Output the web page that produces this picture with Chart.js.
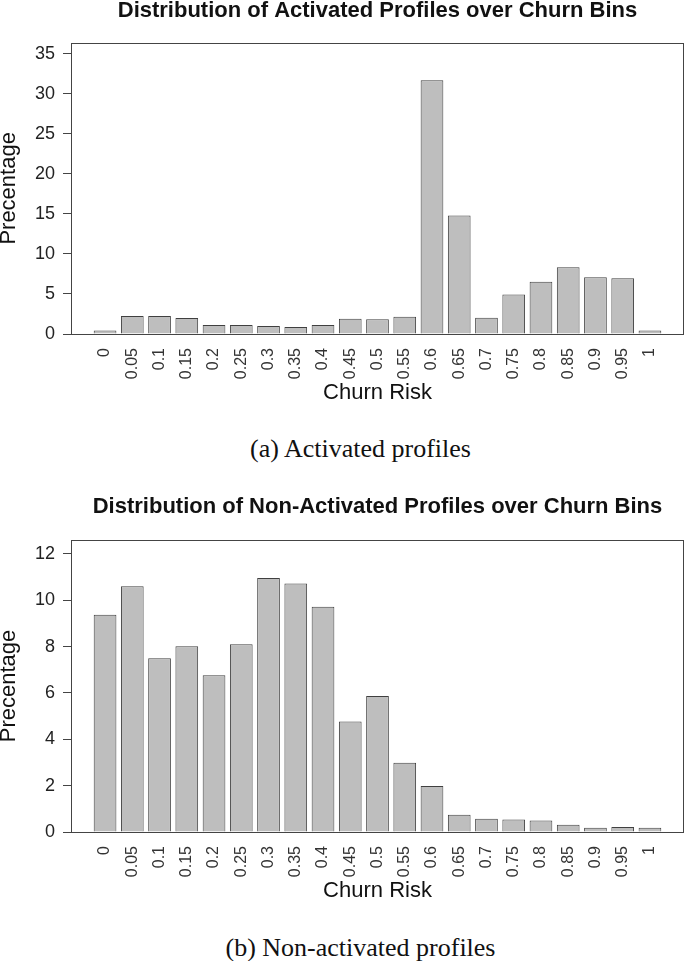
<!DOCTYPE html>
<html lang="en">
<head>
  <meta charset="UTF-8" />
  <title>Distribution of Profiles over Churn Bins</title>
  <script src="https://cdn.jsdelivr.net/npm/chart.js"></script>
  <style>
    body {
      margin: 0;
      background: #ffffff;
      width: 685px;
      height: 961px;
      position: relative;
      overflow: hidden;
    }

    canvas {
      position: absolute;
      left: 0;
    }

    #activatedChart { top: 0; }
    #nonActivatedChart { top: 480px; }

    .caption {
      position: absolute;
      left: 18px;
      width: 685px;
      text-align: center;
      font-family: 'Liberation Serif', 'Times New Roman', serif;
      font-size: 26px;
      line-height: 26px;
      color: #111;
    }
  </style>
</head>
<body>

  <canvas id="activatedChart" width="685" height="410"></canvas>
  <div class="caption" style="top: 436px;">(a) Activated profiles</div>

  <canvas id="nonActivatedChart" width="685" height="428"></canvas>
  <div class="caption" style="top: 935px;">(b) Non-activated profiles</div>

  <script>
    // churn risk bins (x categories)
    const churnBins = ['0', '0.05', '0.1', '0.15', '0.2', '0.25', '0.3', '0.35', '0.4', '0.45', '0.5',
                       '0.55', '0.6', '0.65', '0.7', '0.75', '0.8', '0.85', '0.9', '0.95', '1'];

    // percentage of profiles per bin
    const activatedPct = [0.45, 2.25, 2.25, 2.0, 1.12, 1.12, 1.0, 0.87, 1.12, 1.91, 1.83,
                          2.16, 31.7, 14.8, 2.04, 4.95, 6.54, 8.33, 7.08, 6.96, 0.45];
    const nonActivatedPct = [9.37, 10.6, 7.5, 8.01, 6.76, 8.1, 10.96, 10.72, 9.72, 4.77, 5.87,
                             2.99, 1.98, 0.74, 0.57, 0.54, 0.5, 0.31, 0.18, 0.22, 0.18];

    // y tick labels
    const activatedTicks = [0, 5, 10, 15, 20, 25, 30, 35];
    const nonActivatedTicks = [0, 2, 4, 6, 8, 10, 12];

    Chart.defaults.font.family = "'Liberation Sans', Arial, sans-serif";
    Chart.defaults.color = '#222';

    // R style box round the plot region
    const plotBox = {
      id: 'plotBox',
      afterDraw(chart) {
        const a = chart.chartArea;
        const ctx = chart.ctx;
        ctx.save();
        ctx.strokeStyle = '#444';
        ctx.lineWidth = 1;
        ctx.strokeRect(Math.round(a.left) + 0.5, Math.round(a.top) + 0.5,
                       Math.round(a.right - a.left) - 1, Math.round(a.bottom - a.top));
        ctx.restore();
      }
    };

    function drawChart(id, title, values, yTicks, yMax, titleTop, titleBottom) {
      new Chart(document.getElementById(id), {
        type: 'bar',
        data: {
          datasets: [{
            data: values.map((v, i) => ({ x: i, y: v })),
            backgroundColor: '#bebebe',
            borderColor: '#404040',
            borderWidth: 1,
            categoryPercentage: 1,
            barPercentage: 1 / 1.2
          }]
        },
        options: {
          responsive: false,
          animation: false,
          devicePixelRatio: 1,
          layout: { padding: { left: 0, right: 1, top: 0, bottom: 0 } },
          plugins: {
            legend: { display: false },
            tooltip: { enabled: false },
            title: {
              display: true,
              fullSize: false,
              text: title,
              color: '#111',
              font: { size: 22, weight: 'bold', lineHeight: 1.0 },
              padding: { top: titleTop, bottom: titleBottom }
            }
          },
          scales: {
            x: {
              type: 'linear',
              offset: false,
              min: -1.25,
              max: churnBins.length - 1 + 1.25,
              afterBuildTicks: (scale) => {
                scale.ticks = churnBins.map((b, i) => ({ value: i }));
              },
              afterFit: (scale) => { scale.height = 76; },
              grid: { display: true, offset: false, drawOnChartArea: false, color: 'rgba(0,0,0,0)', tickLength: 14 },
              border: { display: false },
              ticks: {
                autoSkip: false,
                minRotation: 90,
                maxRotation: 90,
                padding: 0,
                color: '#333',
                font: { size: 16 },
                callback: (v) => churnBins[v]
              },
              title: {
                display: true,
                text: 'Churn Risk',
                color: '#111',
                font: { size: 22 },
                padding: { top: 4, bottom: 4 }
              }
            },
            y: {
              min: 0,
              max: yMax,
              afterBuildTicks: (scale) => {
                scale.ticks = yTicks.map((v) => ({ value: v }));
              },
              afterFit: (scale) => { scale.width = 71; },
              grid: { display: true, drawOnChartArea: false, color: '#444', tickLength: 8 },
              border: { display: false },
              ticks: { padding: 8, color: '#222', font: { size: 18 } },
              title: {
                display: true,
                text: 'Precentage',
                color: '#111',
                font: { size: 22, lineHeight: 0.85 },
                padding: { top: 0, bottom: 0 }
              }
            }
          }
        },
        plugins: [plotBox]
      });
    }

    drawChart('activatedChart', 'Distribution of Activated Profiles over Churn Bins',
              activatedPct, activatedTicks, 36.4, 0, 20.7);
    drawChart('nonActivatedChart', 'Distribution of Non-Activated Profiles over Churn Bins',
              nonActivatedPct, nonActivatedTicks, 12.6, 16, 22);
  </script>

</body>
</html>
